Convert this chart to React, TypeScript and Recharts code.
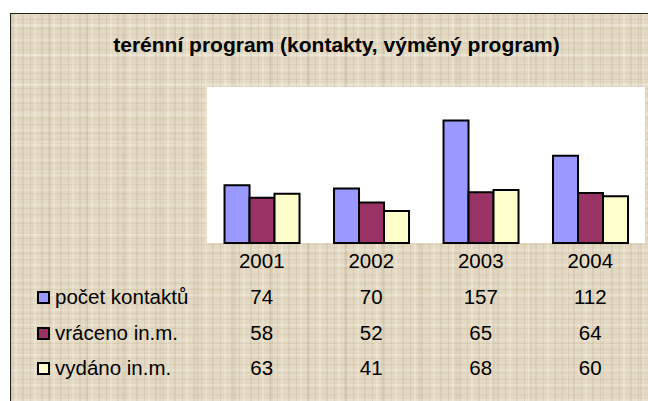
import React from "react";
import { BarChart, Bar, XAxis, YAxis, CartesianGrid } from "recharts";

const years = ["2001", "2002", "2003", "2004"];
const kontakty = [74, 70, 157, 112];
const vraceno = [58, 52, 65, 64];
const vydano = [63, 41, 68, 60];

const seriesInfo = [
  { key: "kontakty", name: "počet kontaktů", color: "#9999FF", values: kontakty },
  { key: "vraceno", name: "vráceno in.m.", color: "#993366", values: vraceno },
  { key: "vydano", name: "vydáno in.m.", color: "#FFFFCC", values: vydano },
];

const data = years.map((year, i) => ({
  year,
  kontakty: kontakty[i],
  vraceno: vraceno[i],
  vydano: vydano[i],
}));

const FONT = "'Liberation Sans', Arial, sans-serif";

// year labels plus the data table rows under each category
function TableTick(props: any) {
  const { x, y, payload, index } = props;
  const i = years.indexOf(payload.value);
  const rowBase = [y + 61, y + 97, y + 132];
  return (
    <g fontFamily={FONT} fontSize={20.5} fill="#000">
      <text x={x} y={y + 25} textAnchor="middle" fill="#000">
        {payload.value}
      </text>
      {seriesInfo.map((s, k) => (
        <text key={s.key} x={x} y={rowBase[k]} textAnchor="middle" fill="#000">
          {s.values[i]}
        </text>
      ))}
      {index === 0 &&
        seriesInfo.map((s, k) => (
          <g key={"lg" + s.key}>
            <rect
              x={38}
              y={rowBase[k] - 12}
              width={11}
              height={11}
              fill={s.color}
              stroke="#000"
              strokeWidth={2}
            />
            <text x={55} y={rowBase[k]} textAnchor="start" fill="#000">
              {s.name}
            </text>
          </g>
        ))}
    </g>
  );
}

export default function App() {
  return (
    <div
      style={{
        position: "absolute",
        left: 0,
        top: 0,
        width: 648,
        height: 401,
        background: "#fff",
        overflow: "hidden",
      }}
    >
      <div
        style={{
          position: "absolute",
          left: 10,
          top: 13,
          width: 640,
          height: 390,
          borderTop: "1.5px solid #222",
          borderLeft: "1.5px solid #222",
          backgroundColor: "#E3D8C1",
          backgroundImage:
            "repeating-linear-gradient(90deg, rgba(140,120,90,0.12) 0 1px, transparent 1px 4px, rgba(255,255,255,0.22) 4px 6px, transparent 6px 11px, rgba(130,110,80,0.10) 11px 13px, transparent 13px 19px)," +
            "repeating-linear-gradient(0deg, rgba(140,120,90,0.11) 0 1px, transparent 1px 3px, rgba(255,255,255,0.2) 3px 5px, transparent 5px 9px, rgba(130,110,80,0.09) 9px 10px, transparent 10px 15px)," +
            "repeating-linear-gradient(90deg, rgba(120,100,70,0.07) 0 3px, transparent 3px 37px)," +
            "repeating-linear-gradient(0deg, rgba(255,255,255,0.15) 0 2px, transparent 2px 29px)",
        }}
      />
      <div
        style={{
          position: "absolute",
          left: 0,
          top: 34,
          width: 673,
          textAlign: "center",
          fontFamily: FONT,
          fontWeight: "bold",
          fontSize: 21,
          lineHeight: "21px",
          color: "#000",
        }}
      >
        terénní program (kontakty, výměný program)
      </div>
      <div style={{ position: "absolute", left: 0, top: 0 }}>
        <BarChart
          width={648}
          height={401}
          data={data}
          margin={{ top: 87, right: 3, left: 207, bottom: 8 }}
          barCategoryGap="16%"
          barGap={0}
        >
          <CartesianGrid fill="#FFFFFF" horizontal={false} vertical={false} />
          <XAxis
            dataKey="year"
            height={150}
            axisLine={false}
            tickLine={false}
            tickSize={0}
            tickMargin={0}
            interval={0}
            tick={<TableTick />}
          />
          <YAxis hide domain={[0, 200]} />
          {seriesInfo.map((s) => (
            <Bar
              key={s.key}
              dataKey={s.key}
              name={s.name}
              fill={s.color}
              stroke="#000"
              strokeWidth={2}
              isAnimationActive={false}
            />
          ))}
        </BarChart>
      </div>
    </div>
  );
}
